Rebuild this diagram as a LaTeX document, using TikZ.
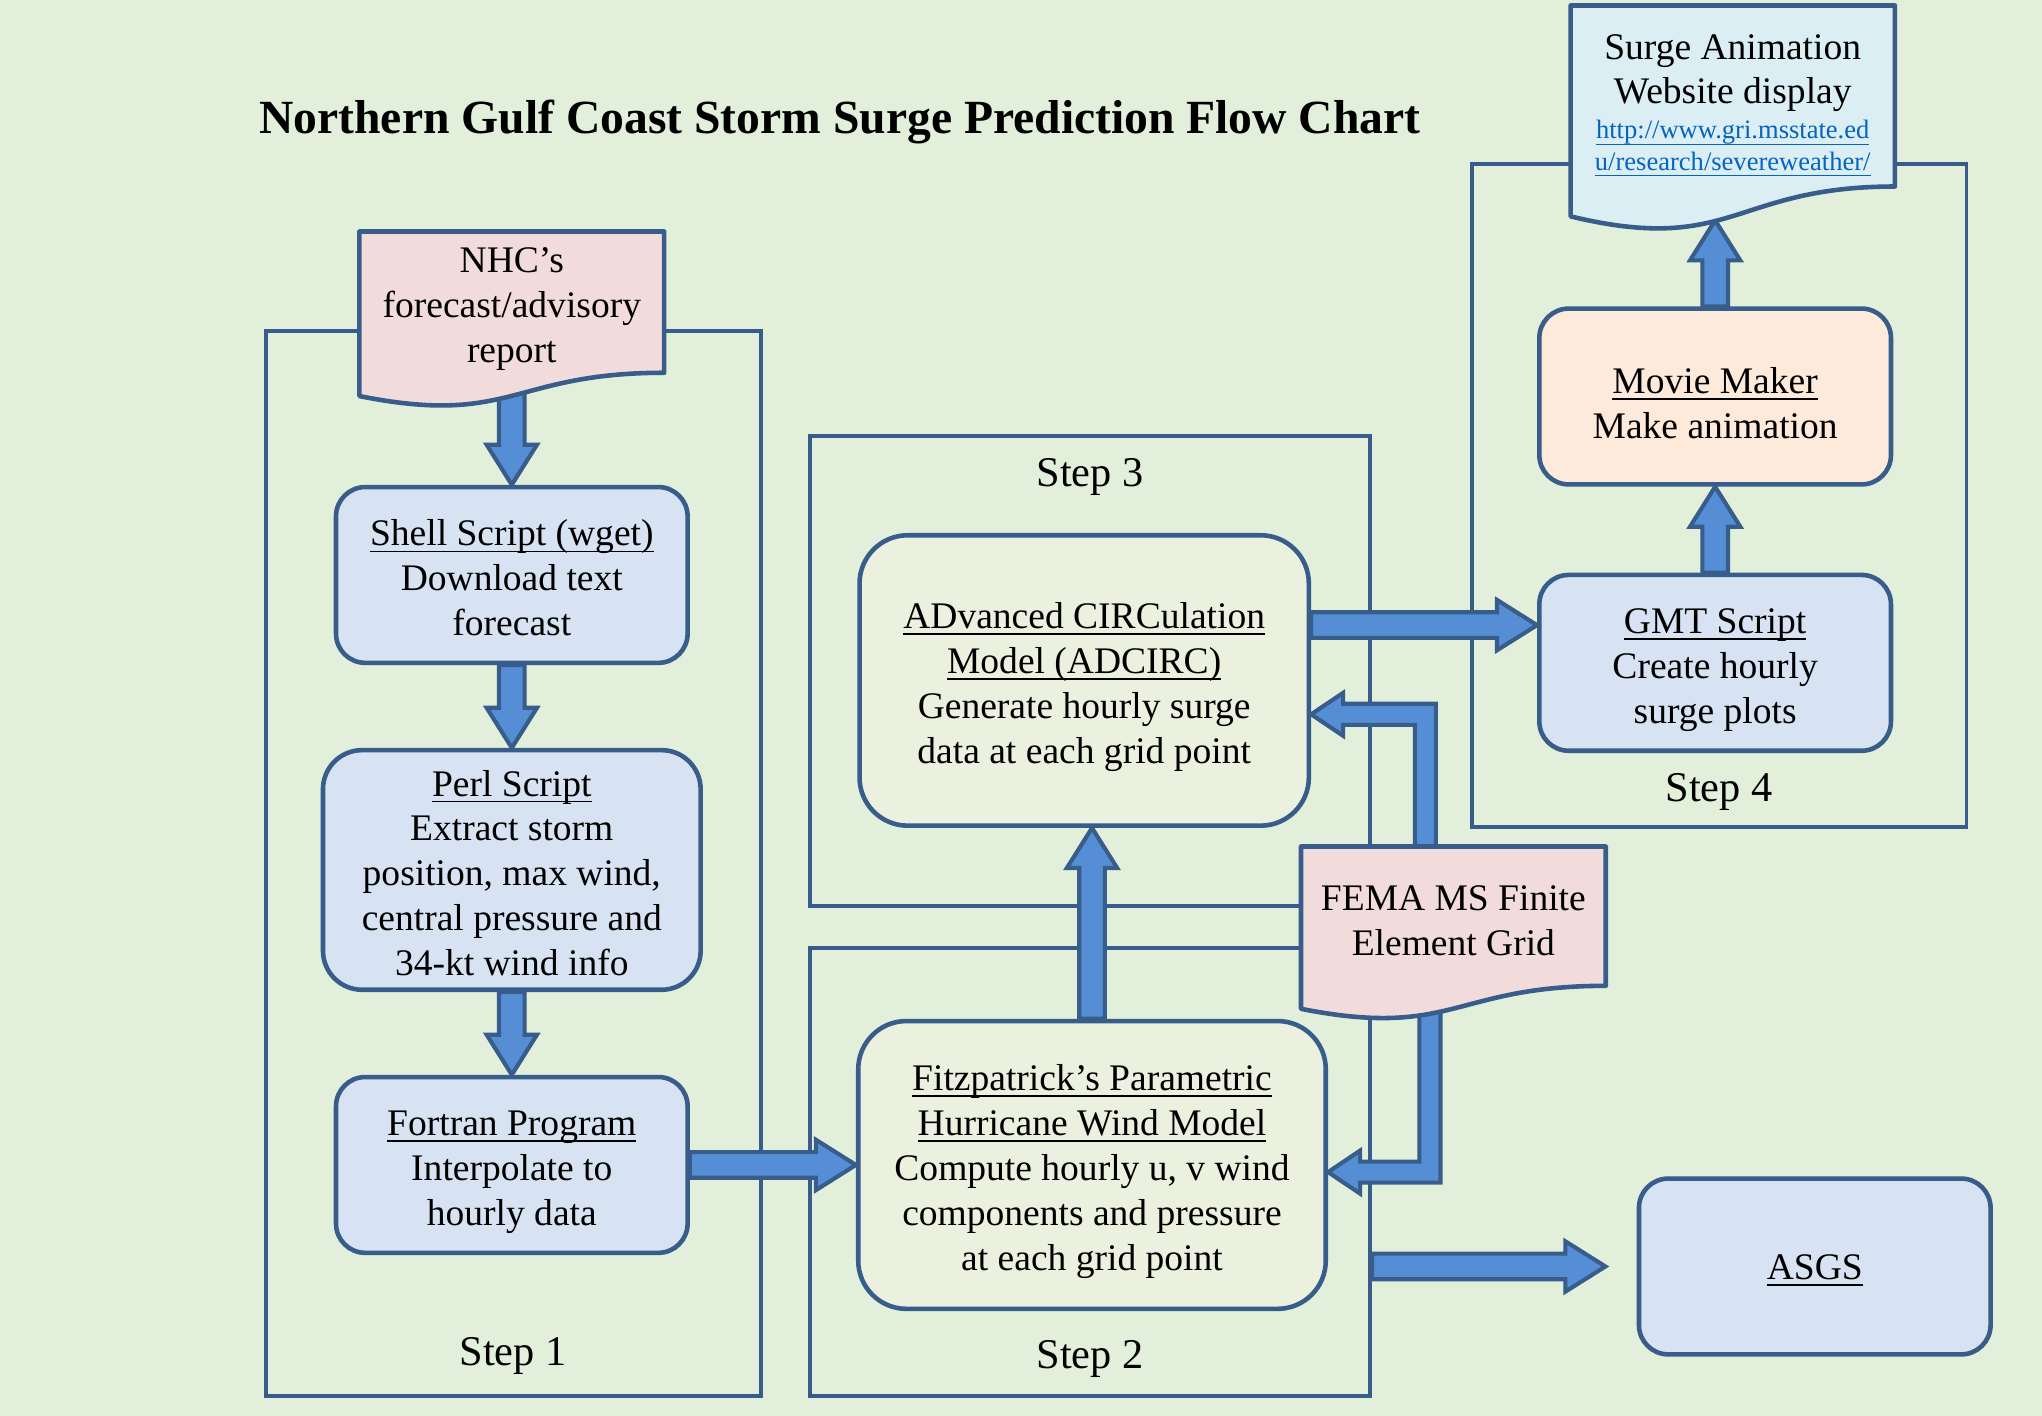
\documentclass[tikz,border=0pt]{standalone}
\usepackage{fontspec}
\setmainfont{Liberation Serif}
\usetikzlibrary{positioning,calc}

\definecolor{bgcol}{RGB}{226,239,218}
\definecolor{linecol}{RGB}{56,93,138}
\definecolor{arrowcol}{RGB}{85,142,213}
\definecolor{procfill}{RGB}{215,227,242}
\definecolor{modelfill}{RGB}{235,241,222}
\definecolor{moviefill}{RGB}{253,234,218}
\definecolor{docpink}{RGB}{242,220,219}
\definecolor{doccyan}{RGB}{219,238,244}
\definecolor{urlblue}{RGB}{5,99,193}

\newcommand{\bodysize}{\fontsize{16.4}{19.6}\selectfont}
\newcommand{\stepsize}{\fontsize{18.5}{22}\selectfont}
\newcommand{\linksize}{\fontsize{11.6}{13.2}\selectfont}
\newcommand{\titlesize}{\fontsize{20.8}{25}\selectfont}
% underlined text, rule at a fixed depth
\newcommand{\ulined}[1]{\setbox0\hbox{#1}\rlap{\rule[-2.8pt]{\wd0}{0.7pt}}\box0}
% taller first line, lowers the text a little
\newcommand{\lift}[1][17pt]{\rule{0pt}{#1}}

\pgfdeclarelayer{background}
\pgfdeclarelayer{arrows}
\pgfdeclarelayer{docs}
\pgfsetlayers{background,arrows,docs,main}

% block arrow sizes
\newcommand{\shafthalf}{5.6pt}
\newcommand{\headhalf}{11pt}
\newcommand{\headlen}{17.5pt}
\newcommand{\bendshaft}{4.6pt}
\newcommand{\bendhead}{9.4pt}
\newcommand{\bendlen}{14pt}

% straight block arrow from #1 to the tip #2
\newcommand{\blockarrow}[2]{%
  \draw[arrowbody] ($(#1)!\shafthalf!90:(#2)$)
    -- ($(#2)!\headlen!(#1)!\shafthalf!90:(#2)$)
    -- ($(#2)!\headlen!(#1)!\headhalf!90:(#2)$)
    -- (#2)
    -- ($(#2)!\headlen!(#1)!\headhalf!-90:(#2)$)
    -- ($(#2)!\headlen!(#1)!\shafthalf!-90:(#2)$)
    -- ($(#1)!\shafthalf!-90:(#2)$) -- cycle;}

% bent block arrow from #1 round the corner #2 to the tip #3
\newcommand{\bentarrow}[3]{%
  \draw[arrowbody] ($(#1)!\bendshaft!90:(#2)$)
    -- ($(#2)!\bendshaft!-90:(#1)!\bendshaft!90:(#3)$)
    -- ($(#3)!\bendlen!(#2)!\bendshaft!90:(#3)$)
    -- ($(#3)!\bendlen!(#2)!\bendhead!90:(#3)$)
    -- (#3)
    -- ($(#3)!\bendlen!(#2)!\bendhead!-90:(#3)$)
    -- ($(#3)!\bendlen!(#2)!\bendshaft!-90:(#3)$)
    -- ($(#2)!\bendshaft!90:(#1)!\bendshaft!-90:(#3)$)
    -- ($(#1)!\bendshaft!-90:(#2)$) -- cycle;}

% document outline with a wavy lower edge round node #1
\newcommand{\docshape}[2]{%
  \draw[docline, fill=#2] let \p1=(#1.north west), \p2=(#1.south east) in
    (\p1) -- (\x2,\y1) -- (\p2)
    .. controls (\x1/2+\x2/2,\y2) and (\x1/2+\x2/2,1.381*\y2-0.381*\y1)
    .. (\x1,1.165*\y2-0.165*\y1) -- cycle;}

\begin{document}
\begin{tikzpicture}[
    node distance=1.27cm,
    every node/.style={font=\bodysize},
    stepframe/.style={draw=linecol, line width=1.7pt, inner sep=0pt},
    steplabel/.style={font=\stepsize},
    procbox/.style={draw=linecol, line width=2pt, rounded corners=0.45cm, fill=procfill, align=center, minimum width=5.4cm, minimum height=2.7cm, inner sep=0pt},
    modelbox/.style={procbox, rounded corners=0.74cm, fill=modelfill},
    docnode/.style={align=center, inner sep=0pt, outer sep=0pt},
    docline/.style={draw=linecol, line width=2pt, line join=round},
    arrowbody/.style={draw=linecol, fill=arrowcol, line width=1.8pt, line join=miter}
]
\useasboundingbox (0,0) rectangle (31.36,21.74);
\begin{pgfonlayer}{background}
\fill[bgcol] (0,0) rectangle (31.36,21.74);
\node[stepframe, minimum width=7.6cm, minimum height=16.36cm] (step1) at (7.88,8.48) {};
\node[stepframe, minimum width=8.6cm, minimum height=6.88cm] (step2) at (16.74,3.74) {};
\node[stepframe, minimum width=8.6cm, minimum height=7.22cm] (step3) at (16.74,11.43) {};
\node[stepframe, minimum width=7.6cm, minimum height=10.18cm] (step4) at (26.40,14.13) {};
\end{pgfonlayer}

\node[font=\titlesize\bfseries] (title) at (12.9,19.86) {Northern Gulf Coast Storm Surge Prediction Flow Chart};

\node[steplabel] (lab1) at ([yshift=0.64cm]step1.south) {Step 1};
\node[steplabel] (lab2) at ([yshift=0.60cm]step2.south) {Step 2};
\node[steplabel] (lab3) at ([yshift=-0.66cm]step3.north) {Step 3};
\node[steplabel] (lab4) at ([yshift=0.56cm]step4.south) {Step 4};

\node[docnode, minimum width=4.68cm, minimum height=2.17cm] (nhc) at (7.86,17.10) {\lift NHC’s\\forecast/advisory\\report};
\node[procbox, below=1.72cm of nhc] (shell) {\lift[14pt]\ulined{Shell Script (wget)}\\Download text\\forecast};
\node[procbox, below=of shell, rounded corners=0.6cm, minimum width=5.8cm, minimum height=3.68cm] (perl) {\lift[14pt]\ulined{Perl Script}\\Extract storm\\position, max wind,\\central pressure and\\34-kt wind info};
\node[procbox, below=of perl] (fortran) {\lift\ulined{Fortran Program}\\Interpolate to\\hourly data};
\node[modelbox, right=2.55cm of fortran, minimum width=7.18cm, minimum height=4.42cm] (fitz) {\lift\ulined{Fitzpatrick’s Parametric}\\\ulined{Hurricane Wind Model}\\Compute hourly u, v wind\\components and pressure\\at each grid point};
\node[modelbox, above=2.93cm of fitz, xshift=-0.12cm, minimum width=6.9cm, minimum height=4.46cm] (adcirc) {\lift\ulined{ADvanced CIRCulation}\\\ulined{Model (ADCIRC)}\\Generate hourly surge\\data at each grid point};
\node[docnode, minimum width=4.68cm, minimum height=2.14cm] (fema) at (22.32,7.67) {\lift[15pt]FEMA MS Finite\\Element Grid};
\node[procbox] (gmt) at (26.34,11.56) {\lift\ulined{GMT Script}\\Create hourly\\surge plots};
\node[procbox, above=1.32cm of gmt, fill=moviefill] (movie) {\lift\ulined{Movie Maker}\\Make animation};
\node[docnode, above=1.84cm of movie, xshift=0.27cm, minimum width=4.98cm, minimum height=2.78cm] (surge) {\lift[19pt]Surge Animation\\Website display\\[-4.3pt]{\linksize\color{urlblue}\ulined{http://www.gri.msstate.ed}}\\[-6pt]{\linksize\color{urlblue}\ulined{u/research/severeweather/}}};
\node[procbox] (asgs) at (27.87,2.29) {\lift[14pt]\ulined{ASGS}};

\coordinate (adcbase) at (fitz.north |- adcirc.south);
\coordinate (adcout) at ([yshift=0.85cm]adcirc.east);
\coordinate (gmtin) at (adcout -| gmt.west);
\coordinate (surgein) at ([xshift=-0.27cm,yshift=-0.52cm]surge.south);
\coordinate (gridup) at ([xshift=-0.43cm]fema.north);
\coordinate (adcin) at ([yshift=-0.52cm]adcirc.east);
\coordinate (upbend) at (gridup |- adcin);
\coordinate (griddown) at ([xshift=-0.36cm]fema.south);
\coordinate (fitzin) at ([yshift=-0.11cm]fitz.east);
\coordinate (downbend) at (griddown |- fitzin);
\coordinate (asgsout) at (step2.east |- asgs.west);
\coordinate (asgsin) at ([xshift=-0.48cm]asgs.west);

\begin{pgfonlayer}{arrows}
\blockarrow{nhc.south}{shell.north}
\blockarrow{shell.south}{perl.north}
\blockarrow{perl.south}{fortran.north}
\blockarrow{fortran.east}{fitz.west}
\blockarrow{fitz.north}{adcbase}
\blockarrow{adcout}{gmtin}
\blockarrow{gmt.north}{movie.south}
\blockarrow{movie.north}{surgein}
\bentarrow{gridup}{upbend}{adcin}
\bentarrow{griddown}{downbend}{fitzin}
\blockarrow{asgsout}{asgsin}
\end{pgfonlayer}

\begin{pgfonlayer}{docs}
\docshape{nhc}{docpink}
\docshape{fema}{docpink}
\docshape{surge}{doccyan}
\end{pgfonlayer}
\end{tikzpicture}
\end{document}
